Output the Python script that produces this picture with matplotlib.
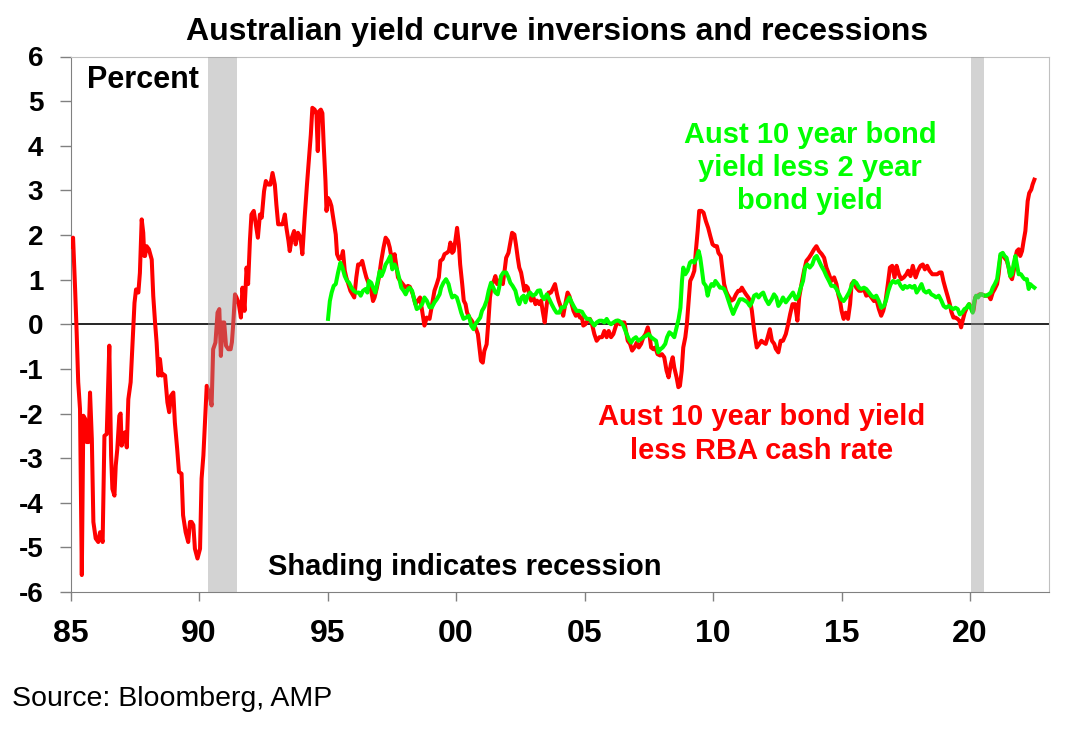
import matplotlib
matplotlib.use("Agg")
import matplotlib.pyplot as plt

plt.rcParams['font.family'] = ['Liberation Sans', 'DejaVu Sans']

# ---- data (decimal years, percent) ----
red_t = [1985.0, 1985.1, 1985.18, 1985.24, 1985.3, 1985.37, 1985.44, 1985.5, 1985.57, 1985.63,
         1985.7, 1985.76, 1985.83, 1985.89, 1985.98, 1986.08, 1986.15, 1986.25, 1986.32, 1986.41,
         1986.51, 1986.58, 1986.63, 1986.71, 1986.76, 1986.82, 1986.9, 1986.95, 1986.99, 1987.06,
         1987.12, 1987.19, 1987.25, 1987.34, 1987.42, 1987.49, 1987.55, 1987.64, 1987.7, 1987.77,
         1987.83, 1987.87, 1987.9, 1987.96, 1988.05, 1988.16, 1988.22, 1988.29, 1988.35, 1988.42,
         1988.48, 1988.55, 1988.61, 1988.68, 1988.77, 1988.84, 1988.91, 1989.0, 1989.06, 1989.15,
         1989.22, 1989.32, 1989.38, 1989.48, 1989.58, 1989.65, 1989.71, 1989.78, 1989.84, 1989.94,
         1990.04, 1990.1, 1990.17, 1990.23, 1990.3, 1990.39, 1990.49, 1990.55, 1990.64, 1990.72,
         1990.79, 1990.85, 1990.92, 1990.98, 1991.05, 1991.14, 1991.23, 1991.28, 1991.33, 1991.4,
         1991.46, 1991.55, 1991.63, 1991.69, 1991.77, 1991.85, 1991.91, 1991.98, 1992.04, 1992.13,
         1992.21, 1992.29, 1992.37, 1992.44, 1992.53, 1992.6, 1992.69, 1992.78, 1992.86, 1992.95,
         1993.01, 1993.08, 1993.17, 1993.25, 1993.34, 1993.4, 1993.48, 1993.53, 1993.61, 1993.7,
         1993.76, 1993.85, 1993.95, 1994.02, 1994.11, 1994.2, 1994.28, 1994.35, 1994.41, 1994.5,
         1994.57, 1994.62, 1994.67, 1994.74, 1994.8, 1994.85, 1994.92, 1994.96, 1995.02, 1995.09,
         1995.15, 1995.24, 1995.32, 1995.37, 1995.45, 1995.54, 1995.6, 1995.67, 1995.73, 1995.81,
         1995.89, 1995.97, 1996.04, 1996.12, 1996.19, 1996.28, 1996.35, 1996.44, 1996.51, 1996.61,
         1996.7, 1996.77, 1996.83, 1996.92, 1997.0, 1997.09, 1997.18, 1997.26, 1997.35, 1997.42,
         1997.49, 1997.55, 1997.61, 1997.67, 1997.74, 1997.83, 1997.93, 1998.04, 1998.13, 1998.2,
         1998.32, 1998.42, 1998.51, 1998.6, 1998.68, 1998.77, 1998.86, 1998.97, 1999.07, 1999.16,
         1999.25, 1999.33, 1999.39, 1999.48, 1999.55, 1999.64, 1999.72, 1999.78, 1999.85, 1999.91,
         1999.98, 2000.04, 2000.11, 2000.16, 2000.24, 2000.3, 2000.37, 2000.43, 2000.52, 2000.61,
         2000.72, 2000.78, 2000.85, 2000.91, 2000.97, 2001.04, 2001.1, 2001.19, 2001.26, 2001.32,
         2001.4, 2001.47, 2001.53, 2001.6, 2001.66, 2001.75, 2001.82, 2001.88, 2001.95, 2002.04,
         2002.1, 2002.18, 2002.27, 2002.33, 2002.4, 2002.46, 2002.53, 2002.59, 2002.66, 2002.72,
         2002.79, 2002.85, 2002.92, 2003.01, 2003.09, 2003.15, 2003.24, 2003.31, 2003.37, 2003.45,
         2003.53, 2003.6, 2003.69, 2003.76, 2003.85, 2003.93, 2003.99, 2004.08, 2004.17, 2004.25,
         2004.34, 2004.41, 2004.5, 2004.57, 2004.66, 2004.76, 2004.82, 2004.9, 2004.95, 2005.03,
         2005.12, 2005.21, 2005.29, 2005.38, 2005.47, 2005.58, 2005.68, 2005.77, 2005.86, 2005.94,
         2006.03, 2006.12, 2006.2, 2006.29, 2006.38, 2006.46, 2006.55, 2006.61, 2006.68, 2006.77,
         2006.85, 2006.94, 2007.03, 2007.11, 2007.2, 2007.29, 2007.37, 2007.46, 2007.52, 2007.59,
         2007.68, 2007.75, 2007.84, 2007.94, 2008.01, 2008.1, 2008.19, 2008.27, 2008.36, 2008.43,
         2008.49, 2008.58, 2008.65, 2008.71, 2008.78, 2008.84, 2008.92, 2008.98, 2009.05, 2009.11,
         2009.2, 2009.27, 2009.33, 2009.4, 2009.46, 2009.55, 2009.63, 2009.72, 2009.81, 2009.89,
         2009.98, 2010.07, 2010.15, 2010.21, 2010.3, 2010.37, 2010.43, 2010.5, 2010.56, 2010.63,
         2010.72, 2010.8, 2010.89, 2010.98, 2011.06, 2011.12, 2011.19, 2011.28, 2011.37, 2011.44,
         2011.51, 2011.57, 2011.64, 2011.7, 2011.8, 2011.88, 2011.96, 2012.05, 2012.12, 2012.21,
         2012.29, 2012.38, 2012.44, 2012.54, 2012.63, 2012.72, 2012.83, 2012.92, 2013.0, 2013.09,
         2013.19, 2013.28, 2013.35, 2013.44, 2013.54, 2013.63, 2013.73, 2013.82, 2013.93, 2014.02,
         2014.12, 2014.23, 2014.32, 2014.41, 2014.51, 2014.6, 2014.71, 2014.8, 2014.87, 2014.94,
         2015.0, 2015.08, 2015.16, 2015.25, 2015.33, 2015.39, 2015.48, 2015.57, 2015.68, 2015.77,
         2015.87, 2015.96, 2016.07, 2016.16, 2016.26, 2016.35, 2016.45, 2016.54, 2016.62, 2016.71,
         2016.8, 2016.88, 2016.97, 2017.06, 2017.14, 2017.23, 2017.32, 2017.42, 2017.52, 2017.59,
         2017.68, 2017.77, 2017.88, 2017.97, 2018.07, 2018.16, 2018.24, 2018.33, 2018.42, 2018.53,
         2018.62, 2018.72, 2018.81, 2018.89, 2018.96, 2019.04, 2019.13, 2019.21, 2019.27, 2019.35,
         2019.43, 2019.51, 2019.58, 2019.65, 2019.71, 2019.79, 2019.88, 2019.97, 2020.05, 2020.13,
         2020.2, 2020.3, 2020.37, 2020.46, 2020.55, 2020.66, 2020.72, 2020.8, 2020.88, 2020.96,
         2021.05, 2021.11, 2021.18, 2021.27, 2021.34, 2021.43, 2021.5, 2021.56, 2021.63, 2021.7,
         2021.76, 2021.82, 2021.89, 2021.95, 2022.02, 2022.08, 2022.15, 2022.19, 2022.24, 2022.3,
         2022.38, 2022.43, 2022.5]
red_v = [1.75, 1.94, 0.78, -0.19, -1.3, -1.9, -5.62, -2.05, -2.12, -2.64,
         -2.64, -1.53, -2.57, -4.43, -4.8, -4.88, -4.66, -4.88, -2.5, -2.46,
         -0.48, -2.94, -3.69, -3.84, -3.17, -2.8, -2.05, -2.0, -2.72, -2.5,
         -2.42, -2.76, -1.68, -1.3, -0.34, 0.48, 0.78, 0.71, 1.15, 2.35,
         2.05, 1.53, 1.53, 1.75, 1.68, 1.45, 0.63, 0.04, -0.41, -1.15,
         -0.78, -1.15, -1.12, -1.15, -1.75, -1.97, -1.6, -1.53, -2.2, -2.79,
         -3.31, -3.35, -4.28, -4.66, -4.88, -4.43, -4.43, -4.5, -5.03, -5.25,
         -5.03, -3.46, -2.94, -2.2, -1.38, -1.53, -1.82, -0.56, -0.41, 0.26,
         0.34, -0.71, 0.04, 0.04, -0.48, -0.56, -0.56, -0.4, 0.0, 0.67,
         0.6, 0.45, 0.15, 0.82, 0.3, 1.27, 0.9, 1.87, 2.46, 2.54,
         2.24, 1.94, 2.46, 2.39, 2.98, 3.21, 3.13, 3.13, 3.39, 3.13,
         2.68, 2.24, 2.24, 2.24, 2.46, 2.16, 1.87, 1.64, 1.94, 2.09,
         1.79, 2.05, 1.94, 1.57, 2.39, 3.13, 3.73, 4.25, 4.85, 4.81,
         4.7, 3.88, 4.77, 4.81, 4.73, 4.03, 3.21, 2.54, 2.83, 2.76,
         2.65, 2.31, 2.01, 1.57, 1.46, 1.49, 1.64, 1.2, 1.05, 0.9,
         0.75, 0.67, 0.6, 1.05, 1.34, 1.34, 1.42, 1.2, 1.05, 0.9,
         0.75, 0.52, 0.6, 0.82, 1.05, 1.42, 1.72, 1.94, 1.87, 1.72,
         1.49, 1.27, 1.57, 1.34, 1.05, 0.97, 0.9, 0.82, 0.86, 0.84,
         0.67, 0.45, 0.53, 0.6, 0.3, -0.03, 0.15, 0.12, 0.45, 0.75,
         0.9, 1.05, 1.42, 1.46, 1.57, 1.6, 1.64, 1.83, 1.6, 1.64,
         1.9, 2.16, 1.79, 1.34, 0.9, 0.53, 0.45, 0.26, 0.15, 0.08,
         -0.03, -0.11, -0.22, -0.52, -0.82, -0.86, -0.6, -0.45, 0.08, 0.6,
         0.9, 0.97, 1.08, 0.9, 0.97, 1.01, 0.9, 1.16, 1.49, 1.6,
         1.79, 2.05, 2.01, 1.79, 1.49, 1.27, 1.16, 0.97, 0.75, 0.86,
         0.82, 0.67, 0.53, 0.6, 0.45, 0.53, 0.45, 0.53, 0.3, 0.04,
         0.45, 0.71, 0.71, 0.79, 0.9, 0.67, 0.53, 0.38, 0.19, 0.45,
         0.71, 0.63, 0.45, 0.3, 0.19, 0.23, 0.15, 0.15, -0.03, 0.0,
         0.08, 0.12, 0.0, -0.22, -0.37, -0.29, -0.29, -0.15, -0.29, -0.15,
         -0.29, -0.22, -0.07, 0.08, 0.0, 0.04, 0.04, -0.15, -0.37, -0.44,
         -0.59, -0.52, -0.41, -0.52, -0.44, -0.29, -0.22, -0.07, -0.22, -0.52,
         -0.56, -0.52, -0.67, -0.7, -0.67, -0.74, -1.04, -1.19, -0.89, -0.74,
         -0.97, -1.19, -1.41, -1.38, -1.04, -0.52, -0.29, 0.0, 0.53, 0.97,
         1.08, 1.2, 1.64, 2.09, 2.54, 2.54, 2.5, 2.31, 2.16, 1.98,
         1.79, 1.75, 1.75, 1.6, 1.53, 1.2, 0.9, 0.75, 0.67, 0.6,
         0.53, 0.56, 0.67, 0.75, 0.75, 0.82, 0.75, 0.67, 0.6, 0.53,
         0.3, 0.0, -0.3, -0.52, -0.44, -0.37, -0.41, -0.44, -0.3, -0.11,
         -0.37, -0.44, -0.55, -0.63, -0.37, -0.37, -0.22, 0.0, 0.23, 0.45,
         0.45, 0.08, 0.6, 0.9, 1.2, 1.42, 1.49, 1.57, 1.68, 1.75,
         1.64, 1.57, 1.49, 1.27, 1.12, 0.97, 1.05, 0.9, 0.67, 0.52,
         0.3, 0.12, 0.26, 0.12, 0.45, 0.9, 0.97, 0.82, 0.75, 0.75,
         0.79, 0.64, 0.67, 0.6, 0.52, 0.56, 0.34, 0.19, 0.3, 0.52,
         0.9, 1.27, 1.31, 1.05, 1.31, 1.12, 1.01, 1.05, 1.12, 1.2,
         1.08, 1.31, 1.05, 1.2, 1.31, 1.34, 1.23, 1.31, 1.2, 1.12,
         1.12, 1.12, 1.16, 1.16, 0.97, 0.8, 0.62, 0.45, 0.28, 0.15,
         0.15, 0.12, 0.08, -0.07, 0.08, 0.26, 0.38, 0.45, 0.37, 0.3,
         0.6, 0.64, 0.67, 0.67, 0.64, 0.64, 0.64, 0.56, 0.71, 0.79,
         0.9, 1.12, 1.53, 1.57, 1.49, 1.42, 1.27, 1.08, 1.01, 1.2,
         1.49, 1.64, 1.68, 1.53, 1.64, 1.86, 2.09, 2.39, 2.76, 2.94,
         3.02, 3.13, 3.24]

green_t = [1995.02, 1995.09, 1995.16, 1995.24, 1995.32, 1995.41, 1995.5, 1995.58, 1995.67, 1995.76,
           1995.84, 1995.93, 1996.02, 1996.12, 1996.22, 1996.29, 1996.38, 1996.48, 1996.55, 1996.61,
           1996.7, 1996.77, 1996.86, 1996.94, 1997.03, 1997.1, 1997.18, 1997.26, 1997.35, 1997.44,
           1997.52, 1997.61, 1997.7, 1997.78, 1997.87, 1997.96, 1998.04, 1998.13, 1998.19, 1998.29,
           1998.38, 1998.47, 1998.58, 1998.68, 1998.77, 1998.86, 1998.97, 1999.06, 1999.16, 1999.25,
           1999.36, 1999.42, 1999.51, 1999.61, 1999.71, 1999.77, 1999.85, 1999.94, 2000.03, 2000.11,
           2000.2, 2000.29, 2000.39, 2000.5, 2000.59, 2000.68, 2000.75, 2000.85, 2000.94, 2001.01,
           2001.1, 2001.19, 2001.27, 2001.36, 2001.45, 2001.53, 2001.62, 2001.69, 2001.75, 2001.84,
           2001.95, 2002.04, 2002.11, 2002.2, 2002.31, 2002.4, 2002.46, 2002.55, 2002.63, 2002.7,
           2002.79, 2002.88, 2002.98, 2003.09, 2003.18, 2003.27, 2003.33, 2003.43, 2003.53, 2003.63,
           2003.72, 2003.82, 2003.91, 2004.02, 2004.11, 2004.21, 2004.3, 2004.41, 2004.5, 2004.6,
           2004.69, 2004.79, 2004.9, 2004.99, 2005.09, 2005.19, 2005.29, 2005.38, 2005.47, 2005.58,
           2005.68, 2005.77, 2005.86, 2005.94, 2006.03, 2006.12, 2006.23, 2006.33, 2006.42, 2006.51,
           2006.61, 2006.72, 2006.81, 2006.9, 2007.0, 2007.09, 2007.2, 2007.29, 2007.39, 2007.49,
           2007.59, 2007.68, 2007.78, 2007.87, 2007.95, 2008.04, 2008.14, 2008.21, 2008.3, 2008.39,
           2008.49, 2008.58, 2008.66, 2008.73, 2008.79, 2008.84, 2008.92, 2009.01, 2009.1, 2009.18,
           2009.27, 2009.36, 2009.44, 2009.5, 2009.57, 2009.63, 2009.72, 2009.79, 2009.85, 2009.94,
           2010.02, 2010.09, 2010.18, 2010.27, 2010.34, 2010.43, 2010.52, 2010.6, 2010.69, 2010.78,
           2010.86, 2010.95, 2011.04, 2011.15, 2011.24, 2011.34, 2011.43, 2011.51, 2011.6, 2011.69,
           2011.77, 2011.86, 2011.95, 2012.05, 2012.16, 2012.28, 2012.37, 2012.46, 2012.54, 2012.63,
           2012.72, 2012.83, 2012.92, 2013.02, 2013.11, 2013.22, 2013.32, 2013.41, 2013.5, 2013.58,
           2013.67, 2013.76, 2013.86, 2013.95, 2014.03, 2014.12, 2014.21, 2014.32, 2014.41, 2014.51,
           2014.6, 2014.71, 2014.8, 2014.9, 2014.99, 2015.08, 2015.18, 2015.29, 2015.39, 2015.48,
           2015.57, 2015.68, 2015.77, 2015.87, 2015.96, 2016.07, 2016.16, 2016.26, 2016.35, 2016.45,
           2016.54, 2016.65, 2016.74, 2016.82, 2016.91, 2017.0, 2017.1, 2017.2, 2017.3, 2017.39,
           2017.46, 2017.55, 2017.65, 2017.75, 2017.84, 2017.92, 2018.01, 2018.11, 2018.2, 2018.29,
           2018.4, 2018.49, 2018.59, 2018.68, 2018.78, 2018.88, 2018.97, 2019.06, 2019.17, 2019.26,
           2019.35, 2019.43, 2019.52, 2019.6, 2019.69, 2019.78, 2019.87, 2019.95, 2020.02, 2020.1,
           2020.17, 2020.23, 2020.31, 2020.39, 2020.46, 2020.55, 2020.63, 2020.72, 2020.81, 2020.88,
           2020.96, 2021.05, 2021.11, 2021.18, 2021.27, 2021.34, 2021.42, 2021.5, 2021.56, 2021.63,
           2021.69, 2021.76, 2021.82, 2021.89, 2021.98, 2022.06, 2022.12, 2022.21, 2022.28, 2022.34,
           2022.41, 2022.5]
green_v = [0.12, 0.52, 0.71, 0.86, 0.9, 1.16, 1.38, 1.27, 1.08, 0.97,
           0.93, 0.82, 0.75, 0.71, 0.71, 0.64, 0.75, 0.79, 0.71, 0.97,
           0.93, 0.82, 0.71, 0.93, 1.19, 1.08, 1.19, 1.34, 1.42, 1.53,
           1.23, 1.34, 1.23, 1.05, 0.82, 0.75, 0.67, 0.79, 0.82, 0.75,
           0.53, 0.34, 0.38, 0.45, 0.6, 0.53, 0.38, 0.38, 0.49, 0.56,
           0.67, 0.82, 0.93, 1.01, 0.9, 0.75, 0.6, 0.64, 0.6, 0.45,
           0.26, 0.12, 0.15, 0.19, -0.03, -0.11, 0.0, 0.08, 0.15, 0.3,
           0.39, 0.53, 0.75, 0.93, 0.82, 0.71, 0.67, 0.86, 1.08, 1.16,
           1.16, 1.05, 0.93, 0.86, 0.75, 0.53, 0.45, 0.6, 0.64, 0.49,
           0.64, 0.71, 0.64, 0.67, 0.75, 0.76, 0.64, 0.56, 0.67, 0.56,
           0.45, 0.34, 0.26, 0.26, 0.38, 0.38, 0.49, 0.6, 0.49, 0.38,
           0.3, 0.3, 0.28, 0.19, 0.12, 0.12, 0.04, -0.03, 0.04, 0.08,
           0.08, 0.04, 0.12, 0.04, 0.0, 0.04, 0.08, 0.08, 0.04, -0.03,
           -0.18, -0.33, -0.41, -0.33, -0.29, -0.37, -0.33, -0.29, -0.26, -0.22,
           -0.29, -0.33, -0.37, -0.63, -0.56, -0.52, -0.44, -0.29, -0.18, -0.22,
           -0.29, -0.07, 0.12, 0.37, 0.97, 1.27, 1.12, 1.2, 1.38, 1.42,
           1.38, 1.49, 1.64, 1.49, 1.2, 0.93, 0.86, 0.64, 0.79, 0.9,
           0.86, 0.97, 0.9, 0.82, 0.82, 0.79, 0.67, 0.53, 0.37, 0.23,
           0.34, 0.45, 0.56, 0.56, 0.53, 0.49, 0.41, 0.49, 0.64, 0.67,
           0.6, 0.67, 0.71, 0.56, 0.45, 0.56, 0.67, 0.6, 0.41, 0.49,
           0.6, 0.49, 0.56, 0.64, 0.71, 0.56, 0.64, 0.82, 0.97, 1.27,
           1.34, 1.27, 1.34, 1.49, 1.53, 1.42, 1.31, 1.2, 1.08, 0.97,
           0.86, 0.86, 0.79, 0.67, 0.56, 0.52, 0.6, 0.71, 0.86, 0.97,
           0.93, 0.82, 0.79, 0.82, 0.79, 0.71, 0.64, 0.6, 0.64, 0.52,
           0.37, 0.41, 0.56, 0.75, 0.9, 0.97, 0.93, 0.97, 0.86, 0.79,
           0.86, 0.82, 0.86, 0.82, 0.86, 0.71, 0.79, 0.9, 0.75, 0.71,
           0.75, 0.67, 0.64, 0.6, 0.64, 0.53, 0.41, 0.37, 0.41, 0.37,
           0.34, 0.37, 0.34, 0.22, 0.26, 0.34, 0.37, 0.45, 0.37, 0.26,
           0.53, 0.64, 0.6, 0.67, 0.67, 0.64, 0.64, 0.67, 0.71, 0.82,
           0.9, 1.01, 1.27, 1.57, 1.6, 1.53, 1.49, 1.27, 1.08, 1.12,
           1.34, 1.53, 1.34, 1.12, 1.12, 1.05, 1.01, 1.01, 0.79, 0.9,
           0.86, 0.82]

recessions = [(1990.36, 1991.48), (2020.02, 2020.55)]
xticks = [1985, 1990, 1995, 2000, 2005, 2010, 2015, 2020]
xtick_labels = ['85', '90', '95', '00', '05', '10', '15', '20']
yticks = list(range(-6, 7))

W, H = 1071, 730
fig = plt.figure(figsize=(W / 100, H / 100), dpi=100)
ax = fig.add_axes([70.5 / W, 1 - 592 / H, 978 / W, 535.5 / H])


def px_text(x, y, s, **kw):
    # place text by pixel position (x, baseline y) measured on the original
    fig.text(x / W, 1 - y / H, s, va='baseline', **kw)


ax.plot(red_t, red_v, color='#ff0000', lw=2.9, zorder=3, solid_joinstyle='round')
ax.plot(green_t, green_v, color='#00ff00', lw=2.9, zorder=3, solid_joinstyle='round')

# recession shading sits over the lines, like the original
for start, end in recessions:
    ax.axvspan(start, end, color='#989898', alpha=0.42, lw=0, zorder=5)

ax.axhline(0, color='black', lw=1.2, zorder=2)

ax.set_xlim(1985, 2023.05)
ax.set_ylim(-6, 6)
ax.set_xticks(xticks)
ax.set_xticklabels(xtick_labels)
ax.set_yticks(yticks)
ax.set_yticklabels([str(v) for v in yticks])

for lab in ax.get_xticklabels():
    lab.set_fontweight('bold')
    lab.set_fontsize(23)
for lab in ax.get_yticklabels():
    lab.set_fontweight('bold')
    lab.set_fontsize(20)

ax.tick_params(axis='y', direction='out', length=7.7, width=1, color='#808080', pad=12)
ax.tick_params(axis='x', direction='out', length=6.5, width=1, color='#808080', pad=13)

ax.spines['left'].set_color('#808080')
ax.spines['bottom'].set_color('#808080')
ax.spines['top'].set_color('#c0c0c0')
ax.spines['right'].set_color('#c0c0c0')

px_text(557, 40, 'Australian yield curve inversions and recessions',
        ha='center', fontsize=23, fontweight='bold')
px_text(87, 88, 'Percent', ha='left', fontsize=22, fontweight='bold')
for yb, line in zip([143, 176, 209], ['Aust 10 year bond', 'yield less 2 year', 'bond yield']):
    px_text(810, yb, line, ha='center', color='#00ff00', fontsize=21, fontweight='bold')
for yb, line in zip([425, 459], ['Aust 10 year bond yield', 'less RBA cash rate']):
    px_text(762, yb, line, ha='center', color='#ff0000', fontsize=21, fontweight='bold')
px_text(465, 575, 'Shading indicates recession', ha='center', fontsize=21, fontweight='bold')
px_text(12, 706, 'Source: Bloomberg, AMP', ha='left', fontsize=20.5)

fig.savefig('out.png', dpi=100)
